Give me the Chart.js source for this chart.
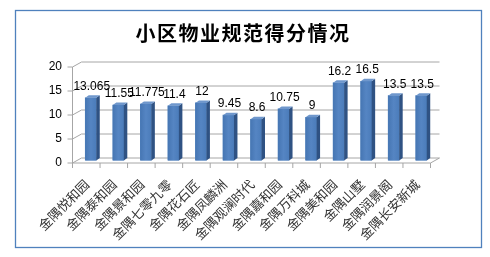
<!DOCTYPE html>
<html><head><meta charset="utf-8">
<script src="https://cdn.jsdelivr.net/npm/chart.js@4"></script>
<style>html,body{margin:0;padding:0;background:#fff;}canvas{display:block;}</style>
</head><body>
<canvas id="c" width="490" height="257"></canvas>
<script>
const titleText = '小区物业规范得分情况';
const categories = ['金隅悦和园','金隅泰和园','金隅景和园','金隅七零九零','金隅花石匠','金隅凤麟洲','金隅观澜时代','金隅嘉和园','金隅万科城','金隅美和园','金隅山墅','金隅润景阁','金隅长安新城'];
const scores = [13.065, 11.55, 11.775, 11.4, 12, 9.45, 8.6, 10.75, 9, 16.2, 16.5, 13.5, 13.5];
const yTicks = [0, 5, 10, 15, 20];

const FX = -4.5, FY = 2.5, BX = 4.5, BY = -2.5;
const GRID = '#a6a6a6';

const threeD = {
  id: 'threeD',
  beforeDraw(chart) {
    const ctx = chart.ctx;
    ctx.save();
    ctx.fillStyle = '#fff';
    ctx.fillRect(0, 0, chart.width, chart.height);
    ctx.strokeStyle = '#4f81bd';
    ctx.lineWidth = 1.3;
    ctx.strokeRect(15.5, 10.5, 466, 237);
    ctx.fillStyle = '#000';
    ctx.font = 'bold 20px "Noto Sans CJK SC"';
    ctx.textAlign = 'center';
    ctx.textBaseline = 'middle';
    ctx.letterSpacing = '1.5px';
    ctx.fillText(titleText, 243, 33);
    ctx.restore();
  },
  beforeDatasetsDraw(chart) {
    const ctx = chart.ctx;
    const a = chart.chartArea;
    const ys = chart.scales.y;
    ctx.save();
    ctx.strokeStyle = GRID;
    ctx.lineWidth = 1;
    const line = (x1, y1, x2, y2) => { ctx.beginPath(); ctx.moveTo(x1, y1); ctx.lineTo(x2, y2); ctx.stroke(); };
    yTicks.forEach(v => {
      const y = ys.getPixelForValue(v);
      line(a.left + BX, y + BY, a.right + BX, y + BY);
      line(a.left + FX, y + FY, a.left + BX, y + BY);
      line(a.left + FX - 5, y + FY, a.left + FX, y + FY);
    });
    const y0 = ys.getPixelForValue(0), y20 = ys.getPixelForValue(20);
    line(a.left + FX, y20 + FY, a.left + FX, y0 + FY);
    line(a.left + FX, y0 + FY, a.right + FX, y0 + FY);
    line(a.right + FX, y0 + FY, a.right + BX, y0 + BY);
    const step = (a.right - a.left) / categories.length;
    for (let i = 0; i <= categories.length; i++) {
      const x = a.left + FX + i * step;
      line(x, y0 + FY, x, y0 + FY + 5);
    }
    ctx.restore();
  },
  afterDatasetsDraw(chart) {
    const ctx = chart.ctx;
    const meta = chart.getDatasetMeta(0);
    ctx.save();
    const d = 3.5, e = 2.5;
    meta.data.forEach((bar, i) => {
      const p = bar.getProps(['x', 'y', 'base', 'width'], true);
      const l = p.x - p.width / 2, r = p.x + p.width / 2;
      const g = ctx.createLinearGradient(l, 0, r, 0);
      g.addColorStop(0, '#4676b3');
      g.addColorStop(0.5, '#5585c3');
      g.addColorStop(1, '#4b7cba');
      ctx.fillStyle = g;
      ctx.fillRect(l, p.y, r - l, p.base - p.y);
      ctx.fillStyle = '#2f5283';
      ctx.beginPath();
      ctx.moveTo(r, p.y); ctx.lineTo(r + d, p.y - e); ctx.lineTo(r + d, p.base - e); ctx.lineTo(r, p.base);
      ctx.closePath(); ctx.fill();
      ctx.fillStyle = '#6f97cc';
      ctx.beginPath();
      ctx.moveTo(l, p.y); ctx.lineTo(l + d, p.y - e); ctx.lineTo(r + d, p.y - e); ctx.lineTo(r, p.y);
      ctx.closePath(); ctx.fill();
      ctx.fillStyle = '#000';
      ctx.font = '12px "Liberation Sans"';
      ctx.textAlign = 'center';
      ctx.textBaseline = 'alphabetic';
      ctx.fillText(String(scores[i]), p.x + 1, p.y - 8);
    });
    ctx.restore();
  }
};

new Chart(document.getElementById('c'), {
  type: 'bar',
  data: {
    labels: categories,
    datasets: [{
      data: scores,
      backgroundColor: '#4f81bd',
      borderWidth: 0,
      barThickness: 11
    }]
  },
  options: {
    responsive: false,
    animation: false,
    events: [],
    layout: { padding: { left: 0, right: 55, top: 64.5, bottom: 0 } },
    plugins: { legend: { display: false }, tooltip: { enabled: false }, title: { display: false } },
    scales: {
      x: {
        grid: { display: false, drawTicks: false },
        border: { display: false },
        ticks: {
          autoSkip: false, minRotation: 45, maxRotation: 45, padding: 16, labelOffset: -4,
          color: '#333', font: { family: '"Noto Sans CJK SC"', size: 13 }
        },
        afterFit(s) { s.height = 96.5; }
      },
      y: {
        min: 0, max: 20,
        grid: { display: false, drawTicks: false },
        border: { display: false },
        ticks: {
          stepSize: 5, padding: 15, labelOffset: 2.5,
          color: '#000', font: { family: '"Liberation Sans"', size: 12 }
        },
        afterFit(s) { s.width = 77; }
      }
    }
  },
  plugins: [threeD]
});
</script>
</body></html>
